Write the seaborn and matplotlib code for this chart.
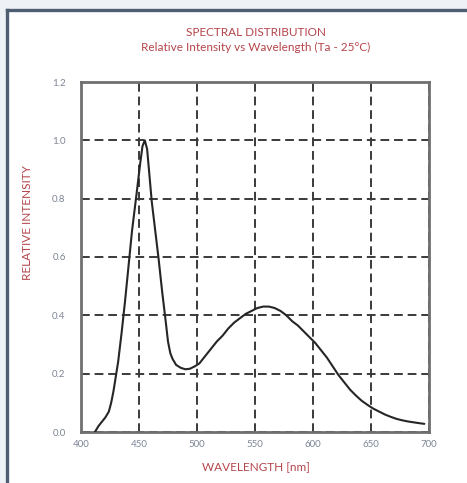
import matplotlib
matplotlib.use("Agg")
import matplotlib.pyplot as plt
import seaborn as sns
import pandas as pd
from matplotlib.patches import Rectangle

wavelength = [412, 415, 418, 421, 424, 426, 428, 430, 432, 435, 438, 441, 444, 448, 451, 453, 455,
              457, 459, 461, 464, 467, 470, 473, 475, 477, 479, 482, 486, 490, 494,
              498, 502, 507, 512, 517, 522, 527, 532, 537, 542, 547, 552, 557, 562,
              567, 572, 577, 582, 587, 592, 597, 602, 607, 612, 617, 622, 627, 632,
              637, 642, 647, 652, 657, 662, 667, 672, 677, 682, 687, 692, 696]
intensity = [0.0, 0.02, 0.035, 0.05, 0.07, 0.10, 0.14, 0.19, 0.24, 0.34, 0.45, 0.57, 0.69, 0.82, 0.92, 0.98, 1.0,
             0.97, 0.88, 0.79, 0.69, 0.59, 0.48, 0.38, 0.31, 0.27, 0.25, 0.23, 0.22, 0.215, 0.217,
             0.225, 0.235, 0.26, 0.285, 0.31, 0.33, 0.355, 0.375, 0.39, 0.405, 0.415, 0.425, 0.43, 0.43,
             0.425, 0.415, 0.40, 0.38, 0.365, 0.345, 0.325, 0.305, 0.28, 0.255, 0.225, 0.195, 0.17, 0.145,
             0.125, 0.107, 0.093, 0.08, 0.07, 0.06, 0.052, 0.045, 0.04, 0.036, 0.033, 0.03, 0.028]
x_ticks = [400, 450, 500, 550, 600, 650, 700]
y_ticks = [0.0, 0.2, 0.4, 0.6, 0.8, 1.0, 1.2]

title_lines = ["SPECTRAL DISTRIBUTION", "Relative Intensity vs Wavelength (Ta - 25°C)"]
x_label = "WAVELENGTH [nm]"
y_label = "RELATIVE INTENSITY"

sns.set_style("white")
plt.rcParams['font.family'] = ['Lato', 'DejaVu Sans']

W, H = 467, 483
fig = plt.figure(figsize=(W / 100, H / 100), dpi=100)
fig.patch.set_facecolor("#eef1f5")

# background axes in pixel coordinates for the framed white panel
bg = fig.add_axes([0, 0, 1, 1])
bg.set_zorder(0)
bg.set_xlim(0, W)
bg.set_ylim(H, 0)
bg.axis("off")
border_col = "#4f5d72"
bg.add_patch(Rectangle((7, 10), W, H, facecolor="white", edgecolor="none"))
bg.plot([7, W + 5], [10, 10], color=border_col, linewidth=2.4, solid_capstyle="projecting")
bg.plot([7, 7], [10, H + 5], color=border_col, linewidth=2.4, solid_capstyle="projecting")

ax = fig.add_axes([81 / W, 1 - 432 / H, (429 - 81) / W, (432 - 82) / H])
ax.set_zorder(2)
ax.set_facecolor("white")

df = pd.DataFrame({"wavelength": wavelength, "intensity": intensity})
sns.lineplot(data=df, x="wavelength", y="intensity", ax=ax, color="#262626",
             linewidth=1.5, zorder=3)

ax.set_xlim(400, 700)
ax.set_ylim(0, 1.2)
ax.set_xticks(x_ticks)
ax.set_yticks(y_ticks)
ax.set_xticklabels([str(v) for v in x_ticks])
ax.set_yticklabels([f"{v:.1f}" for v in y_ticks])
ax.tick_params(axis="both", length=0, labelsize=7, labelcolor="#7d8595")
ax.tick_params(axis="x", pad=6)
ax.tick_params(axis="y", pad=11)
ax.grid(True, color="#3a3a3a", linestyle=(0, (4.5, 2.5)), linewidth=1.4)
ax.set_axisbelow(True)
for s in ax.spines.values():
    s.set_color("#707070")
    s.set_linewidth(2)
ax.set_xlabel("")
ax.set_ylabel("")

red = "#b5454b"
fig.text(256 / W, 1 - 32 / H, title_lines[0], ha="center", va="center", fontsize=8.5, color=red)
fig.text(256 / W, 1 - 47 / H, title_lines[1], ha="center", va="center", fontsize=8.5, color=red)
fig.text(256 / W, 1 - 468 / H, x_label, ha="center", va="center", fontsize=8.5, color=red)
fig.text(28 / W, 1 - 223 / H, y_label, ha="center", va="center", rotation=90, fontsize=8.5, color=red)

fig.savefig("out.png", dpi=100, facecolor=fig.get_facecolor())
